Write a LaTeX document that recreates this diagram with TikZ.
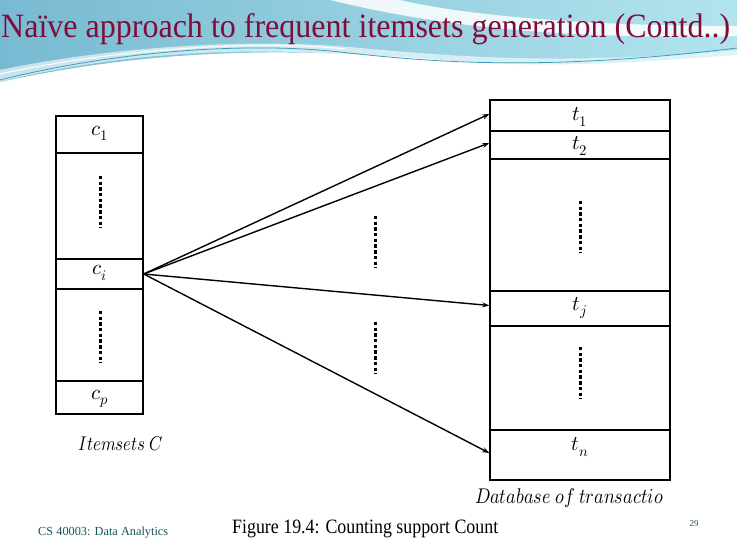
\documentclass[tikz,border=0pt]{standalone}
\usepackage{fontspec}
\usepackage{unicode-math}
\setmainfont{Liberation Serif}
\setmathfont{Latin Modern Math}
\usetikzlibrary{arrows.meta}
\definecolor{titlered}{RGB}{128,12,58}
\definecolor{skyblue}{RGB}{120,186,210}
\definecolor{skycyan}{RGB}{178,228,238}
\definecolor{footteal}{RGB}{25,85,90}
\definecolor{waveteal}{RGB}{60,160,185}
\tikzset{
  row/.style={draw, line width=1.4pt, inner sep=0pt, fill=white},
  lrow/.style={row, minimum width=87pt},
  rrow/.style={row, minimum width=180pt},
  lab/.style={font=\fontsize{21}{21}\selectfont, inner sep=0pt},
  captext/.style={inner sep=0pt},
  dotline/.style={line width=3pt, dash pattern=on 3.4pt off 2.3pt},
  conn/.style={line width=1.4pt, -{Stealth[length=7pt,width=5pt]}}
}
\begin{document}
\begin{tikzpicture}[x=1pt,y=-1pt]
\useasboundingbox (0,0) rectangle (737,540);
% background
\fill[white] (0,0) rectangle (737,540);
\shade[left color=skyblue, right color=skycyan]
  (0,0) -- (737,0) -- (737,55)
  .. controls (640,62) and (560,68) .. (470,62)
  .. controls (360,54) and (200,38) .. (0,82) -- cycle;
\fill[white, opacity=0.85] (330,0) .. controls (420,22) and (540,40) .. (737,36)
  -- (737,26) .. controls (560,26) and (450,12) .. (400,0) -- cycle;
\fill[white, opacity=0.6] (0,70) .. controls (120,45) and (260,38) .. (360,48)
  .. controls (450,56) and (560,66) .. (737,50) -- (737,58)
  .. controls (560,74) and (440,66) .. (360,56) .. controls (250,46) and (120,52) .. (0,82) -- cycle;
\draw[waveteal, line width=0.8pt] (0,80) .. controls (120,50) and (250,42) .. (340,52)
  .. controls (430,62) and (540,72) .. (737,48);
\draw[white, line width=1pt] (0,74) .. controls (120,48) and (260,40) .. (345,49);
% title
\node[anchor=base west, inner sep=0pt, text=titlered] (title) at (1,38)
  {\resizebox{729pt}{24pt}{Naïve approach to frequent itemsets generation (Contd..)}};
% left column
\node[lrow, minimum height=37pt] (c1) at (99.5,134.5) {};
\node[lrow, minimum height=106pt] (cg1) at (99.5,206) {};
\node[lrow, minimum height=30pt] (ci) at (99.5,274) {};
\node[lrow, minimum height=92pt] (cg2) at (99.5,335) {};
\node[lrow, minimum height=33pt] (cp) at (99.5,397.5) {};
\node[lab] (lc1) at (100,133) {$c_1$};
\node[lab] (lci) at (100,273) {$c_i$};
\node[lab] (lcp) at (100,399) {$c_p$};
\draw[dotline] (100,176) -- (100,228);
\draw[dotline] (100,311) -- (100,363);
\node[captext, anchor=base west] (itemsets) at (78,450) {\resizebox{85pt}{14pt}{$Itemsets\ C$}};
% right column
\node[rrow, minimum height=31pt] (t1) at (580,115.5) {};
\node[rrow, minimum height=28pt] (t2) at (580,145) {};
\node[rrow, minimum height=132pt] (tg1) at (580,225) {};
\node[rrow, minimum height=35pt] (tj) at (580,308.5) {};
\node[rrow, minimum height=104pt] (tg2) at (580,378) {};
\node[rrow, minimum height=50pt] (tn) at (580,455) {};
\node[lab] (lt1) at (580,117) {$t_1$};
\node[lab] (lt2) at (580,146) {$t_2$};
\node[lab] (ltj) at (580,308) {$t_j$};
\node[lab] (ltn) at (580,447) {$t_n$};
\draw[dotline] (580,201) -- (580,253);
\draw[dotline] (580,347) -- (580,399);
\node[captext, anchor=base west] (db) at (475,503) {\resizebox{188pt}{15pt}{$Database\ of\ transactio$}};
% middle dots
\draw[dotline] (375,216) -- (375,268);
\draw[dotline] (375,322) -- (375,374);
% arrows
\draw[conn] (ci.east) -- ([yshift=1.5pt]t1.west);
\draw[conn] (ci.east) -- ([yshift=2pt]t2.west);
\draw[conn] (ci.east) -- ([yshift=3pt]tj.west);
\draw[conn] (ci.east) -- ([yshift=2pt]tn.west);
% footer
\node[anchor=base west, inner sep=0pt, text=footteal] (course) at (38,535)
  {\resizebox{130pt}{!}{\fontsize{10}{10}\selectfont CS 40003: Data Analytics}};
\node[anchor=base west, inner sep=0pt] (caption) at (232,533)
  {\resizebox{266pt}{13.5pt}{Figure 19.4: Counting support Count}};
\node[anchor=base, inner sep=0pt, text=footteal, font=\fontsize{9}{9}\selectfont] (page) at (694,526) {29};
\end{tikzpicture}
\end{document}
